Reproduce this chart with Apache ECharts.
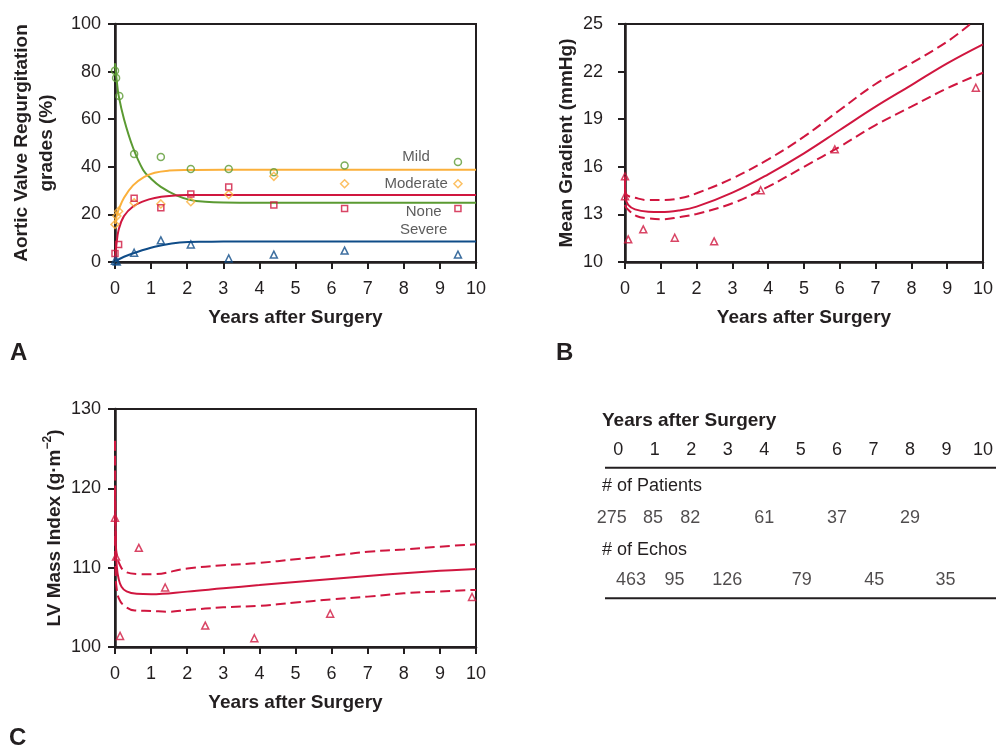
<!DOCTYPE html>
<html>
<head>
<meta charset="utf-8">
<script src="https://cdn.jsdelivr.net/npm/echarts@6/dist/echarts.min.js"></script>
<style>
  html, body { margin: 0; padding: 0; background: #ffffff; }
  #chart { width: 996px; height: 749px; }
</style>
</head>
<body>
<div id="chart"></div>
<script>
// ---- Panel A: aortic valve regurgitation grades (%) ----
const noneObs     = [[0, 80.4], [0.03, 77.3], [0.12, 69.7], [0.53, 45.4], [1.27, 44.1], [2.1, 39.1], [3.15, 39.1], [4.4, 37.7], [6.36, 40.5], [9.5, 42.0]];
const mildObs     = [[0, 15.8], [0.05, 19.3], [0.1, 21.3], [0.53, 24.9], [1.27, 24.4], [2.1, 25.3], [3.15, 28.4], [4.4, 36.0], [6.36, 32.9], [9.5, 32.9]];
const moderateObs = [[0, 3.6], [0.1, 7.4], [0.53, 26.8], [1.27, 22.8], [2.1, 28.6], [3.15, 31.5], [4.4, 23.9], [6.36, 22.5], [9.5, 22.5]];
const severeObs   = [[0, 0.5], [0.05, 0.2], [0.53, 3.9], [1.27, 9.1], [2.1, 7.4], [3.15, 1.5], [4.4, 3.1], [6.36, 4.8], [9.5, 3.1]];

const noneFit     = [[0, 83.5], [0.05, 76], [0.1, 70], [0.25, 60], [0.5, 48], [0.78, 38.7], [1.0, 35], [1.27, 31.6], [1.7, 28], [2.1, 26], [2.5, 25.3], [3, 25.0], [4, 24.9], [6, 24.9], [8, 24.9], [10, 24.9]];
const mildFit     = [[0, 16], [0.05, 19.5], [0.1, 22], [0.25, 27], [0.5, 32.2], [0.8, 35.7], [1.1, 37.5], [1.5, 38.4], [2, 38.7], [3, 38.8], [6, 38.8], [10, 38.8]];
const moderateFit = [[0, 1], [0.03, 6], [0.1, 13.5], [0.25, 19.3], [0.5, 23.3], [0.8, 25.6], [1.1, 26.9], [1.5, 27.7], [2, 28.1], [3, 28.2], [6, 28.2], [10, 28.2]];
const severeFit   = [[0, 0.3], [0.25, 2.2], [0.55, 3.9], [1.1, 6.4], [1.57, 7.8], [2.03, 8.4], [2.5, 8.5], [3, 8.6], [6, 8.6], [10, 8.6]];

const gradeNames  = ['Mild', 'Moderate', 'None', 'Severe'];
const gradeLabelAt = [[8.34, 44.0], [8.34, 32.8], [8.55, 21.1], [8.55, 13.7]];

// ---- Panel B: mean gradient (mmHg) ----
const gradientObs   = [[0, 15.4], [0, 14.15], [0.09, 11.43], [0.51, 12.06], [1.39, 11.53], [2.49, 11.3], [3.79, 14.52], [5.86, 17.1], [9.8, 20.98]];
const gradientFit   = [[0, 15.4], [0.003, 14.6], [0.01, 14.12], [0.09, 13.6], [0.28, 13.32], [0.65, 13.17], [1.0, 13.15], [1.5, 13.25], [2, 13.49], [3, 14.37], [4, 15.53], [5, 16.85], [6, 18.32], [7, 19.79], [8, 21.15], [9, 22.52], [10, 23.72]];
const gradientUpper = [[0, 14.6], [0.05, 14.22], [0.28, 14.05], [0.65, 13.9], [1.0, 13.9], [1.5, 14.0], [2, 14.33], [3, 15.27], [4, 16.47], [5, 17.9], [6, 19.58], [7, 21.22], [8, 22.52], [9, 23.89], [9.65, 25.0]];
const gradientLower = [[0, 13.6], [0.05, 13.38], [0.32, 12.9], [0.65, 12.75], [1.0, 12.69], [1.5, 12.82], [2, 13.03], [3, 13.7], [4, 14.75], [5, 16.0], [6, 17.27], [7, 18.63], [8, 19.79], [9, 20.95], [10, 21.93]];

// ---- Panel C: LV mass index (g·m⁻²) ----
const massObs   = [[0, 116.3], [0.03, 111.4], [0.14, 101.4], [0.66, 112.5], [1.39, 107.5], [2.5, 102.7], [3.86, 101.1], [5.96, 104.2], [9.89, 106.3]];
const massFit   = [[0, 120], [0.02, 113], [0.05, 110.1], [0.1, 108.6], [0.18, 107.6], [0.32, 107.0], [0.6, 106.7], [1, 106.65], [2, 106.98], [3, 107.4], [4, 107.8], [5, 108.2], [6, 108.58], [7, 108.95], [8, 109.3], [9, 109.6], [10, 109.83]];
const massUpper = [[0, 126], [0.02, 113.5], [0.05, 111.6], [0.14, 110.3], [0.28, 109.5], [0.64, 109.2], [1, 109.16], [2, 109.9], [3, 110.3], [4, 110.6], [5, 111.06], [6, 111.5], [7, 112.0], [8, 112.3], [9, 112.65], [10, 112.95]];
const massLower = [[0, 114], [0.02, 108.8], [0.05, 107.2], [0.1, 106.2], [0.23, 105.3], [0.55, 104.6], [1, 104.54], [1.5, 104.45], [2, 104.66], [3, 105.0], [4, 105.2], [5, 105.6], [6, 106.0], [7, 106.35], [8, 106.77], [9, 107.0], [10, 107.2]];

// ---- Follow-up table ----
const tableYears   = [0, 1, 2, 3, 4, 5, 6, 7, 8, 9, 10];
const patientPos   = [-0.18, 0.95, 1.97, 4, 6, 8];
const patientCount = [275, 85, 82, 61, 37, 29];
const echoPos      = [0.35, 1.54, 2.99, 5.03, 7.02, 8.97];
const echoCount    = [463, 95, 126, 79, 45, 35];

const FONT = '"Liberation Sans", Arial, Helvetica, sans-serif';
const INK = '#231f20';
const GREEN = '#5b9a32', ORANGE = '#fbb03b', RED = '#d0163f', BLUE = '#0f4c88';

function xAxisYears(gridIndex) {
  return {
    gridIndex, type: 'value', min: 0, max: 10, interval: 1,
    name: 'Years after Surgery', nameLocation: 'middle', nameGap: 46,
    nameTextStyle: { fontFamily: FONT, fontWeight: 'bold', fontSize: 19, color: INK },
    axisLine: { show: true, onZero: false, lineStyle: { color: INK, width: 2.5 } },
    axisTick: { show: true, inside: false, length: 7, lineStyle: { color: INK, width: 2 } },
    axisLabel: { fontFamily: FONT, fontSize: 18, color: INK, margin: 18 },
    splitLine: { show: false }
  };
}
function yAxisValue(gridIndex, min, max, interval, name, nameGap, labelMargin, extra) {
  return Object.assign({
    gridIndex, type: 'value', min, max, interval,
    name, nameLocation: 'middle', nameRotate: 90, nameGap,
    nameTextStyle: { fontFamily: FONT, fontWeight: 'bold', fontSize: 19, color: INK, lineHeight: 25 },
    axisLine: { show: true, onZero: false, lineStyle: { color: INK, width: 2.5 } },
    axisTick: { show: true, inside: false, length: 7, lineStyle: { color: INK, width: 2 } },
    axisLabel: { fontFamily: FONT, fontSize: 18, color: INK, margin: labelMargin },
    splitLine: { show: false }
  }, extra || {});
}
function fitLine(data, color, xi, dashed) {
  return {
    type: 'line', xAxisIndex: xi, yAxisIndex: xi, data,
    smooth: 0.4, showSymbol: false, symbol: 'none',
    lineStyle: { color, width: 2, type: dashed ? [10, 5] : 'solid' },
    silent: true, z: 3
  };
}
function points(data, color, symbol, xi, size) {
  return {
    type: 'scatter', xAxisIndex: xi, yAxisIndex: xi, data,
    symbol, symbolSize: size || 7,
    itemStyle: { color: 'rgba(255,255,255,0)', borderColor: color, borderWidth: 1.5 },
    clip: false, z: 4
  };
}

const chart = echarts.init(document.getElementById('chart'), null, { renderer: 'canvas' });

const gridBox = { show: true, borderColor: INK, borderWidth: 2, backgroundColor: 'transparent' };

const option = {
  animation: false,
  backgroundColor: '#ffffff',
  grid: [
    Object.assign({ left: 115, top: 24, width: 361, height: 238 }, gridBox),
    Object.assign({ left: 625, top: 24, width: 361, height: 238 }, gridBox),
    Object.assign({ left: 115, top: 409, width: 361, height: 238 }, gridBox),
    { left: 618.3, top: 467.7, width: 368, height: 130.6, show: false }
  ],
  xAxis: [
    xAxisYears(0), xAxisYears(1), xAxisYears(2),
    {
      gridIndex: 3, type: 'value', min: 0, max: 10, interval: 1, position: 'top',
      axisLine: { show: false }, axisTick: { show: false }, splitLine: { show: false },
      axisLabel: {
        fontFamily: FONT, fontSize: 18, color: INK, margin: 9,
        showMinLabel: true, showMaxLabel: true,
        formatter: (v) => (tableYears.indexOf(v) >= 0 ? String(v) : '')
      }
    }
  ],
  yAxis: [
    yAxisValue(0, 0, 100, 20, 'Aortic Valve Regurgitation\ngrades (%)', 56, 14),
    yAxisValue(1, 10, 25, 3, 'Mean Gradient (mmHg)', 44, 22),
    yAxisValue(2, 100, 130, 10, 'LV Mass Index (g·m{sup|−2})', 48, 14, {
      nameTextStyle: {
        fontFamily: FONT, fontWeight: 'bold', fontSize: 19, color: INK, lineHeight: 25,
        rich: { sup: { fontFamily: FONT, fontWeight: 'bold', fontSize: 12, color: INK, verticalAlign: 'top', lineHeight: 25, padding: [0, 0, 0, 0] } }
      }
    }),
    { gridIndex: 3, type: 'value', min: 0, max: 1, inverse: true, show: false }
  ],
  series: [
    // Panel A fitted curves
    fitLine(noneFit, GREEN, 0),
    fitLine(mildFit, ORANGE, 0),
    fitLine(moderateFit, RED, 0),
    fitLine(severeFit, BLUE, 0),
    // Panel A observations
    points(noneObs, GREEN, 'circle', 0, 7),
    points(mildObs, ORANGE, 'diamond', 0, 8),
    points(moderateObs, RED, 'rect', 0, 6),
    points(severeObs, BLUE, 'triangle', 0, 7),
    // Panel A grade names
    {
      type: 'scatter', xAxisIndex: 0, yAxisIndex: 0, symbolSize: 0, silent: true, z: 5,
      data: gradeLabelAt.map((p, i) => ({ value: p, name: gradeNames[i] })),
      label: { show: true, position: 'inside', formatter: '{b}', fontFamily: FONT, fontSize: 15, color: '#333333' }
    },
    // Panel B
    fitLine(gradientFit, RED, 1),
    fitLine(gradientUpper, RED, 1, true),
    fitLine(gradientLower, RED, 1, true),
    points(gradientObs, RED, 'triangle', 1, 7),
    // Panel C
    fitLine(massFit, RED, 2),
    fitLine(massUpper, RED, 2, true),
    fitLine(massLower, RED, 2, true),
    points(massObs, RED, 'triangle', 2, 7),
    // Table rows
    {
      type: 'scatter', xAxisIndex: 3, yAxisIndex: 3, symbolSize: 0, silent: true, clip: false,
      data: patientPos.map((x, i) => ({ value: [x, 0.383], name: String(patientCount[i]) })),
      label: { show: true, position: 'inside', formatter: '{b}', fontFamily: FONT, fontSize: 18, color: INK }
    },
    {
      type: 'scatter', xAxisIndex: 3, yAxisIndex: 3, symbolSize: 0, silent: true, clip: false,
      data: echoPos.map((x, i) => ({ value: [x, 0.86], name: String(echoCount[i]) })),
      label: { show: true, position: 'inside', formatter: '{b}', fontFamily: FONT, fontSize: 18, color: INK }
    }
  ],
  graphic: [
    { type: 'text', left: 10, top: 341, style: { text: 'A', font: 'bold 24px ' + FONT, fill: INK } },
    { type: 'text', left: 556, top: 341, style: { text: 'B', font: 'bold 24px ' + FONT, fill: INK } },
    { type: 'text', left: 9, top: 726, style: { text: 'C', font: 'bold 24px ' + FONT, fill: INK } },
    { type: 'text', left: 602, top: 411, style: { text: 'Years after Surgery', font: 'bold 19px ' + FONT, fill: INK } },
    { type: 'text', left: 602, top: 477, style: { text: '# of Patients', font: '18px ' + FONT, fill: INK } },
    { type: 'text', left: 602, top: 541, style: { text: '# of Echos', font: '18px ' + FONT, fill: INK } },
    { type: 'line', shape: { x1: 605, y1: 467.7, x2: 996, y2: 467.7 }, style: { stroke: INK, lineWidth: 2 } },
    { type: 'line', shape: { x1: 605, y1: 598.3, x2: 996, y2: 598.3 }, style: { stroke: INK, lineWidth: 2 } }
  ]
};

chart.setOption(option);
</script>
</body>
</html>
